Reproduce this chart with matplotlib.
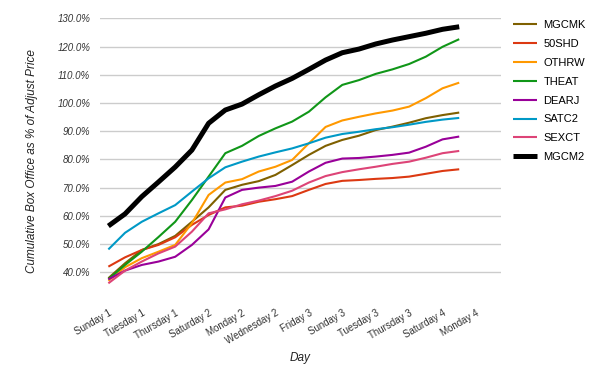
import matplotlib
matplotlib.use("Agg")
import matplotlib.pyplot as plt
import numpy as np

plt.rcParams['font.family'] = ['Liberation Sans', 'DejaVu Sans']

# 24 day slots on the axis, data covers the first 22 (Sunday 1 .. Sunday 4)
days = ['Sunday 1', 'Monday 1', 'Tuesday 1', 'Wednesday 1', 'Thursday 1', 'Friday 2',
        'Saturday 2', 'Sunday 2', 'Monday 2', 'Tuesday 2', 'Wednesday 2', 'Thursday 2',
        'Friday 3', 'Saturday 3', 'Sunday 3', 'Monday 3', 'Tuesday 3', 'Wednesday 3',
        'Thursday 3', 'Friday 4', 'Saturday 4', 'Sunday 4', 'Monday 4', 'Tuesday 4']

mgcmk = [0.379, 0.432, 0.479, 0.500, 0.529, 0.579, 0.630, 0.692, 0.710, 0.723, 0.745,
         0.780, 0.816, 0.848, 0.869, 0.884, 0.904, 0.916, 0.930, 0.946, 0.957, 0.966]
shd50 = [0.420, 0.453, 0.479, 0.497, 0.524, 0.568, 0.603, 0.630, 0.636, 0.650, 0.659,
         0.670, 0.692, 0.713, 0.724, 0.727, 0.731, 0.734, 0.739, 0.749, 0.759, 0.765]
othrw = [0.370, 0.418, 0.450, 0.473, 0.497, 0.574, 0.674, 0.718, 0.730, 0.757, 0.774,
         0.798, 0.857, 0.915, 0.938, 0.951, 0.963, 0.973, 0.987, 1.017, 1.052, 1.072]
theat = [0.376, 0.426, 0.473, 0.525, 0.579, 0.656, 0.739, 0.822, 0.848, 0.883, 0.910,
         0.934, 0.969, 1.020, 1.064, 1.081, 1.103, 1.119, 1.138, 1.164, 1.199, 1.226]
dearj = [0.375, 0.406, 0.426, 0.438, 0.455, 0.497, 0.552, 0.665, 0.692, 0.700, 0.706,
         0.721, 0.757, 0.788, 0.803, 0.805, 0.810, 0.816, 0.824, 0.845, 0.871, 0.881]
satc2 = [0.481, 0.540, 0.579, 0.609, 0.638, 0.686, 0.733, 0.772, 0.792, 0.810, 0.825,
         0.839, 0.857, 0.877, 0.890, 0.898, 0.907, 0.914, 0.923, 0.933, 0.941, 0.947]
sexct = [0.361, 0.406, 0.438, 0.467, 0.491, 0.544, 0.609, 0.623, 0.641, 0.654, 0.670,
         0.689, 0.718, 0.741, 0.755, 0.765, 0.774, 0.784, 0.792, 0.806, 0.822, 0.830]
mgcm2 = [0.564, 0.607, 0.668, 0.720, 0.773, 0.833, 0.928, 0.975, 0.996, 1.029, 1.060,
         1.087, 1.119, 1.152, 1.178, 1.191, 1.209, 1.223, 1.235, 1.247, 1.261, 1.270]

names = ['MGCMK', '50SHD', 'OTHRW', 'THEAT', 'DEARJ', 'SATC2', 'SEXCT', 'MGCM2']
series = [mgcmk, shd50, othrw, theat, dearj, satc2, sexct, mgcm2]
colors = ['#7f6000', '#dc3912', '#ff9900', '#109618', '#990099', '#0099c6', '#dd4477', '#000000']
widths = [1.5, 1.5, 1.5, 1.5, 1.5, 1.5, 1.5, 3.6]

fig = plt.figure(figsize=(6, 3.71), dpi=100)
ax = fig.add_axes([100/600, 1 - 286.4/371, 401/600, (286.4 - 18.3)/371])

x = np.arange(len(mgcmk))
for name, vals, c, w in zip(names, series, colors, widths):
    ax.plot(x, vals, color=c, lw=w, label=name, solid_joinstyle='round', solid_capstyle='butt')

ax.set_xlim(-0.5, len(days) - 0.5)
ax.set_ylim(0.35, 1.30)
yt = np.arange(0.4, 1.301, 0.1)
ax.set_yticks(yt)
ax.set_yticklabels([f'{v*100:.1f}%' for v in yt], fontsize=7, style='italic', color='#333333')
ax.set_xticks(np.arange(0, len(days), 2))
ax.set_xticklabels(days[::2], fontsize=7, rotation=30, ha='right', rotation_mode='anchor',
                   color='#333333')
ax.tick_params(length=0)
ax.tick_params(axis='y', pad=7)
ax.tick_params(axis='x', pad=15.5)
ax.grid(axis='y', color='#cccccc', lw=1)
ax.set_axisbelow(True)
for s in ax.spines.values():
    s.set_visible(False)

ax.set_ylabel('Cumulative Box Office as % of Adjust Price', fontsize=8.5, style='italic',
              color='#222222')
ax.yaxis.set_label_coords(-0.155, 0.468)
ax.set_xlabel('Day', fontsize=8.5, style='italic', color='#222222', labelpad=4)

ax.legend(loc='upper left', bbox_to_anchor=(513/600, 1 - 20/371), bbox_transform=fig.transFigure,
          frameon=False, fontsize=8, handlelength=2.2, handletextpad=0.55, labelspacing=0.8,
          borderpad=0, borderaxespad=0)

fig.savefig('out.png', dpi=100)
